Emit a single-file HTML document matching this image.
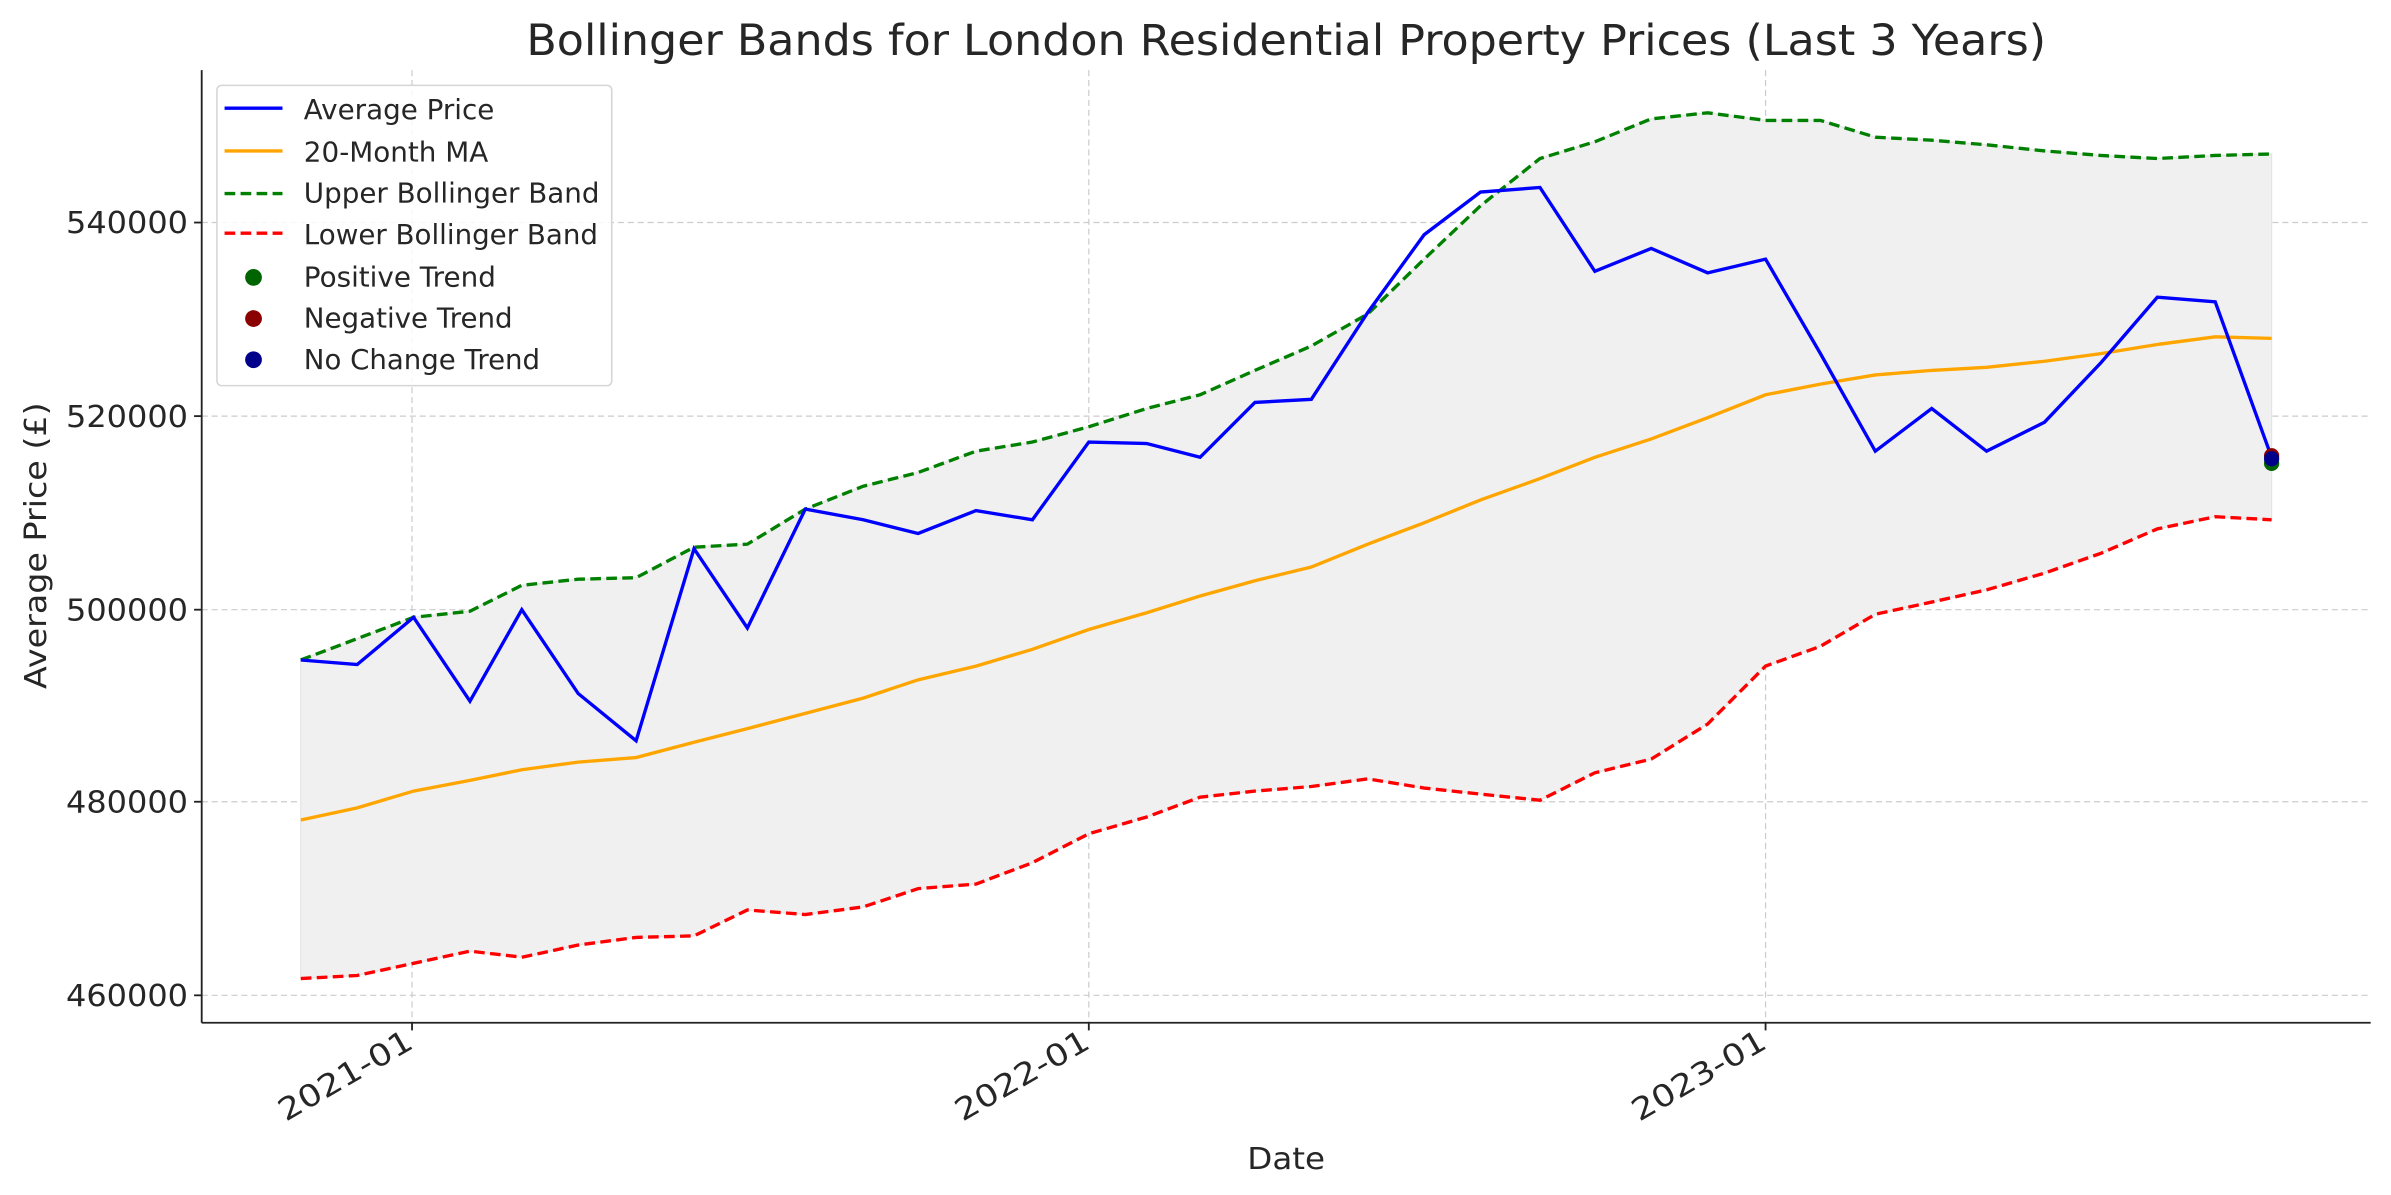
<!DOCTYPE html>
<html><head><meta charset="utf-8"><style>
html,body{margin:0;padding:0;background:#fff;}
svg{display:block;}
text{font-family:"DejaVu Sans","Liberation Sans",sans-serif;fill:#262626;}
</style></head><body>
<svg width="2391" height="1195" viewBox="0 0 1568 784" xmlns="http://www.w3.org/2000/svg">
<rect width="1568" height="784" fill="#fff"/>
<text x="345" y="36" font-size="28" textLength="997" lengthAdjust="spacingAndGlyphs" fill="#333">Bollinger Bands for London Residential Property Prices (Last 3 Years)</text>
<g stroke="#cccccc" stroke-width="0.8" stroke-dasharray="4,2.5">
<line x1="132" x2="1555" y1="146" y2="146"/><line x1="132" x2="1555" y1="273" y2="273"/><line x1="132" x2="1555" y1="400" y2="400"/><line x1="132" x2="1555" y1="526" y2="526"/><line x1="132" x2="1555" y1="653" y2="653"/>
<line x1="270" x2="270" y1="46" y2="671"/><line x1="714" x2="714" y1="46" y2="671"/><line x1="1158" x2="1158" y1="46" y2="671"/>
</g>
<polygon fill="#f0f0f0" stroke="#e4e4e4" stroke-width="0.8" points="197,433 234,419 271,405 308,401 342,384 379,380 417,379 455,359 490,357 528,334 566,319 602,310 640,296 677,290 714,280 752,268 787,259 823,243 860,227 897,206 934,170 971,135 1010,104 1046,93 1083,78 1120,74 1158,79 1194,79 1230,90 1267,92 1303,95 1341,99 1378,102 1415,104 1453,102 1490,101 1490,341 1453,339 1415,347 1378,363 1341,376 1303,387 1267,395 1230,403 1194,424 1158,437 1120,475 1083,498 1046,507 1010,525 971,521 934,517 897,511 860,516 823,519 787,523 752,536 714,547 677,566 640,580 602,583 566,595 528,600 490,597 455,614 417,615 379,620 342,628 308,624 271,632 234,640 197,642"/>
<polyline fill="none" stroke="#ffa500" stroke-width="2.2" points="197,538 234,530 271,519 308,512 342,505 379,500 417,497 455,487 490,478 528,468 566,458 602,446 640,437 677,426 714,413 752,402 787,391 823,381 860,372 897,357 934,343 971,328 1010,314 1046,300 1083,288 1120,274 1158,259 1194,252 1230,246 1267,243 1303,241 1341,237 1378,232 1415,226 1453,221 1490,222"/>
<polyline fill="none" stroke="#008000" stroke-width="2.2" stroke-dasharray="7,3.5" points="197,433 234,419 271,405 308,401 342,384 379,380 417,379 455,359 490,357 528,334 566,319 602,310 640,296 677,290 714,280 752,268 787,259 823,243 860,227 897,206 934,170 971,135 1010,104 1046,93 1083,78 1120,74 1158,79 1194,79 1230,90 1267,92 1303,95 1341,99 1378,102 1415,104 1453,102 1490,101"/>
<polyline fill="none" stroke="#ff0000" stroke-width="2.2" stroke-dasharray="7,3.5" points="197,642 234,640 271,632 308,624 342,628 379,620 417,615 455,614 490,597 528,600 566,595 602,583 640,580 677,566 714,547 752,536 787,523 823,519 860,516 897,511 934,517 971,521 1010,525 1046,507 1083,498 1120,475 1158,437 1194,424 1230,403 1267,395 1303,387 1341,376 1378,363 1415,347 1453,339 1490,341"/>
<polyline fill="none" stroke="#0000ff" stroke-width="2.2" points="197,433 234,436 271,405 308,460 342,400 379,455 417,486 455,360 490,412 528,334 566,341 602,350 640,335 677,341 714,290 752,291 787,300 823,264 860,262 897,205 934,154 971,126 1010,123 1046,178 1083,163 1120,179 1158,170 1194,232 1230,296 1267,268 1303,296 1341,277 1378,238 1415,195 1453,198 1490,300"/>
<circle cx="1490" cy="304" r="5" fill="#006400"/>
<circle cx="1490" cy="299" r="5" fill="#8b0000"/>
<circle cx="1490" cy="301" r="5" fill="#00008b"/>
<g stroke="#222" stroke-width="1.2" fill="none">
<line x1="132" y1="46" x2="132" y2="671"/><line x1="132" y1="671" x2="1555" y2="671"/>
<line x1="127" x2="132" y1="146" y2="146"/><line x1="127" x2="132" y1="273" y2="273"/><line x1="127" x2="132" y1="400" y2="400"/><line x1="127" x2="132" y1="526" y2="526"/><line x1="127" x2="132" y1="653" y2="653"/>
<line x1="270" x2="270" y1="671" y2="676"/><line x1="714" x2="714" y1="671" y2="676"/><line x1="1158" x2="1158" y1="671" y2="676"/>
</g>
<g font-size="20">
<text x="43" y="153" textLength="80" lengthAdjust="spacingAndGlyphs">540000</text>
<text x="43" y="280" textLength="80" lengthAdjust="spacingAndGlyphs">520000</text>
<text x="43" y="407" textLength="80" lengthAdjust="spacingAndGlyphs">500000</text>
<text x="43" y="533" textLength="80" lengthAdjust="spacingAndGlyphs">480000</text>
<text x="43" y="660" textLength="80" lengthAdjust="spacingAndGlyphs">460000</text>
<text transform="translate(272,687) rotate(-30)" x="-98" textLength="98" lengthAdjust="spacingAndGlyphs">2021-01</text>
<text transform="translate(716,687) rotate(-30)" x="-98" textLength="98" lengthAdjust="spacingAndGlyphs">2022-01</text>
<text transform="translate(1160,687) rotate(-30)" x="-98" textLength="98" lengthAdjust="spacingAndGlyphs">2023-01</text>
</g>
<text x="818" y="767" font-size="20" textLength="51" lengthAdjust="spacingAndGlyphs">Date</text>
<text transform="translate(30,452) rotate(-90)" font-size="20" textLength="188" lengthAdjust="spacingAndGlyphs">Average Price (£)</text>
<rect x="142" y="56" width="259" height="197" rx="3" fill="#fff" fill-opacity="0.85" stroke="#d5d5d5" stroke-width="1"/>
<g stroke-width="2.2">
<line x1="147" x2="185" y1="71" y2="71" stroke="#0000ff"/>
<line x1="147" x2="185" y1="99" y2="99" stroke="#ffa500"/>
<line x1="147" x2="185" y1="127" y2="127" stroke="#008000" stroke-dasharray="7,3.5"/>
<line x1="147" x2="185" y1="153" y2="153" stroke="#ff0000" stroke-dasharray="7,3.5"/>
</g>
<circle cx="166" cy="182" r="5.5" fill="#006400"/>
<circle cx="166" cy="209" r="5.5" fill="#8b0000"/>
<circle cx="166" cy="236" r="5.5" fill="#00008b"/>
<g font-size="18">
<text x="199" y="78" textLength="125" lengthAdjust="spacingAndGlyphs">Average Price</text>
<text x="199" y="106" textLength="121" lengthAdjust="spacingAndGlyphs">20-Month MA</text>
<text x="199" y="133" textLength="194" lengthAdjust="spacingAndGlyphs">Upper Bollinger Band</text>
<text x="199" y="160" textLength="193" lengthAdjust="spacingAndGlyphs">Lower Bollinger Band</text>
<text x="199" y="188" textLength="126" lengthAdjust="spacingAndGlyphs">Positive Trend</text>
<text x="199" y="215" textLength="137" lengthAdjust="spacingAndGlyphs">Negative Trend</text>
<text x="199" y="242" textLength="155" lengthAdjust="spacingAndGlyphs">No Change Trend</text>
</g>
</svg>
</body></html>
